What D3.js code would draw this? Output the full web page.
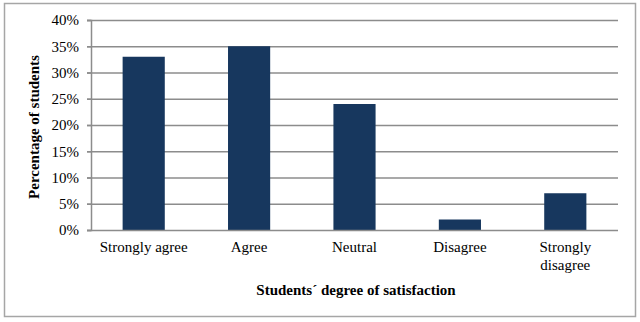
<!DOCTYPE html>
<html>
<head>
<meta charset="utf-8">
<script src="https://cdn.jsdelivr.net/npm/d3@7"></script>
</head>
<body style="margin:0;padding:0;background:#fff">
<svg id="chart" width="640" height="322" style="display:block">
  <rect x="4.5" y="3.5" width="631" height="313" fill="#fff" stroke="#a6a6a6" stroke-width="1.5"></rect>
  <text id="x-title" x="356" y="295" text-anchor="middle" font-family="Liberation Serif" font-size="15" font-weight="bold" fill="#000">Students´ degree of satisfaction</text>
  <text id="y-title" transform="translate(39,127) rotate(-90)" text-anchor="middle" font-family="Liberation Serif" font-size="15" font-weight="bold" fill="#000">Percentage of students</text>
</svg>
<script>
// Survey results: share of students per satisfaction level
const categories = ["Strongly agree", "Agree", "Neutral", "Disagree", "Strongly disagree"];
const percentages = [33, 35, 24, 2, 7];
const yTicks = [0, 5, 10, 15, 20, 25, 30, 35, 40];

const SERIF = "Liberation Serif";
const svg = d3.select("#chart");
const plot = { left: 91, right: 618, top: 20, bottom: 230 };

const x = d3.scaleBand()
  .domain(categories)
  .range([plot.left, plot.right])
  .paddingInner(0.6)
  .paddingOuter(0.3);

const y = d3.scaleLinear()
  .domain([0, 40])
  .range([plot.bottom, plot.top]);

// horizontal gridlines
svg.append("g")
  .selectAll("line")
  .data(yTicks.filter(d => d > 0))
  .join("line")
  .attr("x1", plot.left - 4).attr("x2", plot.right)
  .attr("y1", d => y(d) + 0.5).attr("y2", d => y(d) + 0.5)
  .attr("stroke", "#8c8c8c").attr("stroke-width", 1.5);

// bars
svg.append("g")
  .selectAll("rect")
  .data(categories.map((c, i) => ({ c, v: percentages[i] })))
  .join("rect")
  .attr("x", d => x(d.c))
  .attr("width", x.bandwidth())
  .attr("y", d => y(d.v))
  .attr("height", d => y(0) - y(d.v))
  .attr("fill", "#17375e");

// y axis
const yAxis = d3.axisLeft(y)
  .tickValues(yTicks)
  .tickFormat(d => d + "%")
  .tickSize(4)
  .tickPadding(8);
const gy = svg.append("g")
  .attr("transform", `translate(${plot.left},0)`)
  .call(yAxis);
gy.attr("font-family", SERIF).attr("font-size", 15);
gy.select(".domain").attr("stroke", "#8c8c8c").attr("stroke-width", 1.5);
gy.selectAll(".tick line").attr("stroke", "#8c8c8c").attr("stroke-width", 1.5);
gy.selectAll(".tick text")
  .attr("font-family", SERIF)
  .attr("font-size", 15)
  .attr("fill", "#000");

// x axis baseline
svg.append("line")
  .attr("x1", plot.left - 4).attr("x2", plot.right)
  .attr("y1", plot.bottom + 0.5).attr("y2", plot.bottom + 0.5)
  .attr("stroke", "#8c8c8c").attr("stroke-width", 1.5);

// category labels (wrapped where needed)
const labelLines = { "Strongly disagree": ["Strongly", "disagree"] };
categories.forEach(c => {
  const lines = labelLines[c] || [c];
  const cx = x(c) + x.bandwidth() / 2;
  lines.forEach((l, i) => {
    svg.append("text")
      .attr("class", "cat-label")
      .attr("text-anchor", "middle")
      .attr("font-family", SERIF)
      .attr("font-size", 15)
      .attr("fill", "#000")
      .attr("x", cx)
      .attr("y", 252 + i * 18)
      .text(l);
  });
});

// measure text now so the serif faces are requested while the page is still loading
svg.selectAll("text").each(function () { this.getBBox(); });
if (document.fonts && document.fonts.load) {
  document.fonts.load('15px "Liberation Serif"');
  document.fonts.load('bold 15px "Liberation Serif"');
}
</script>
</body>
</html>
